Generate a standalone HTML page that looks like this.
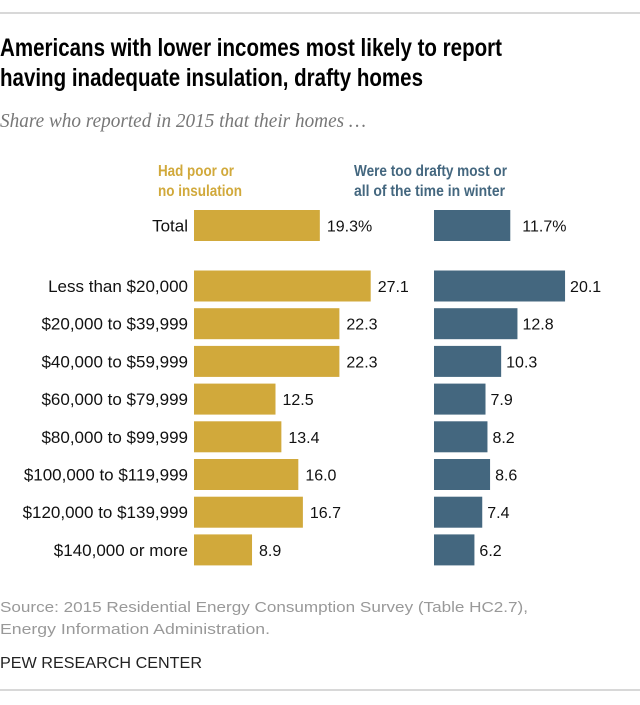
<!DOCTYPE html>
<html><head><meta charset="utf-8"><style>
html,body{margin:0;padding:0;background:#fff}
svg text{font-family:"Liberation Sans",sans-serif}
</style></head><body>
<svg width="640" height="700" xmlns="http://www.w3.org/2000/svg">
<line x1="0" y1="13" x2="640" y2="13" stroke="#ccc" stroke-width="1.5"/>
<text x="0" y="56" font-size="25" font-weight="bold" fill="#000" textLength="502" lengthAdjust="spacingAndGlyphs">Americans with lower incomes most likely to report</text>
<text x="0" y="86" font-size="25" font-weight="bold" fill="#000" textLength="423" lengthAdjust="spacingAndGlyphs">having inadequate insulation, drafty homes</text>
<text x="0" y="127" font-size="20" font-style="italic" fill="#777" style="font-family:'Liberation Serif',serif" textLength="366" lengthAdjust="spacingAndGlyphs">Share who reported in 2015 that their homes …</text>
<text x="158" y="176" font-size="16" font-weight="bold" fill="#d1a93b" textLength="76" lengthAdjust="spacingAndGlyphs">Had poor or</text>
<text x="158" y="196" font-size="16" font-weight="bold" fill="#d1a93b" textLength="84" lengthAdjust="spacingAndGlyphs">no insulation</text>
<text x="354" y="176" font-size="16" font-weight="bold" fill="#44677f" textLength="153" lengthAdjust="spacingAndGlyphs">Were too drafty most or</text>
<text x="354" y="196" font-size="16" font-weight="bold" fill="#44677f" textLength="151" lengthAdjust="spacingAndGlyphs">all of the time in winter</text>
<g id="bars"></g>
<text x="0" y="612" font-size="15" fill="#999" textLength="528" lengthAdjust="spacingAndGlyphs">Source: 2015 Residential Energy Consumption Survey (Table HC2.7),</text>
<text x="0" y="634" font-size="15" fill="#999" textLength="270" lengthAdjust="spacingAndGlyphs">Energy Information Administration.</text>
<text x="0" y="668" font-size="16" fill="#222" textLength="202" lengthAdjust="spacingAndGlyphs">PEW RESEARCH CENTER</text>
<line x1="0" y1="690" x2="640" y2="690" stroke="#ccc" stroke-width="1.5"/>
</svg>
<script>
const categories=["Total","Less than $20,000","$20,000 to $39,999","$40,000 to $59,999","$60,000 to $79,999","$80,000 to $99,999","$100,000 to $119,999","$120,000 to $139,999","$140,000 or more"];
const insulation=[19.3,27.1,22.3,22.3,12.5,13.4,16.0,16.7,8.9];
const drafty=[11.7,20.1,12.8,10.3,7.9,8.2,8.6,7.4,6.2];
const NS="http://www.w3.org/2000/svg";
const g=document.getElementById('bars');
const scale=6.52;
const x=v=>v*scale;
const yCenter=i=>i===0?225.5:286+(i-1)*37.7;
function mk(tag,a){const e=document.createElementNS(NS,tag);for(const k in a)e.setAttribute(k,a[k]);g.appendChild(e);return e;}
categories.forEach((c,i)=>{
  const yc=yCenter(i);
  const lab=mk('text',{x:188,y:yc+6,'font-size':17,'text-anchor':'end',fill:'#111'});
  lab.textContent=c;
  
  
  const b1=mk('rect',{x:194,y:yc-15.5,width:x(insulation[i]),height:31,fill:'#d1a93b'});
  
  
  const t1=mk('text',{x:194+x(insulation[i])+7,y:yc+6,'font-size':16,fill:'#111'});
  t1.textContent=insulation[i].toFixed(1)+(i===0?'%':'');
  
  
  const b2=mk('rect',{x:434,y:yc-15.5,width:x(drafty[i]),height:31,fill:'#44677f'});
  
  
  const t2=mk('text',{x:434+x(drafty[i])+(i===0?12:5),y:yc+6,'font-size':16,fill:'#111'});
  t2.textContent=drafty[i].toFixed(1)+(i===0?'%':'');
  
  
});
</script>
</body></html>
